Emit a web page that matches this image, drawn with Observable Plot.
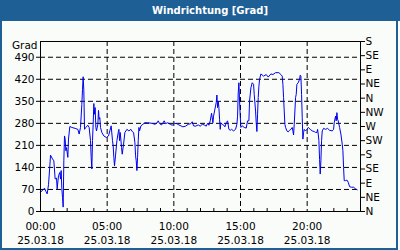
<!DOCTYPE html>
<html>
<head>
<meta charset="utf-8">
<script src="https://cdn.jsdelivr.net/npm/d3@7"></script>
<script src="https://cdn.jsdelivr.net/npm/@observablehq/plot@0.6"></script>
<style>
  html, body { margin: 0; padding: 0; background: #ffffff; }
  body { width: 400px; height: 250px; position: relative; overflow: hidden; }
  #panel { position: absolute; left: 0; top: 0; width: 398px; height: 250px; box-sizing: border-box;
           border: 2px solid #1e5f96; border-top: none; background: #fafcfa; }
  #title { position: absolute; left: 0; top: 0; width: 400px; height: 21px; background: #1e5f96; color: #ffffff;
           font: bold 10px "DejaVu Sans", sans-serif; line-height: 21px; text-align: center;
           padding-left: 20px; box-sizing: border-box; }
  #chart { position: absolute; left: 0; top: 20px; }
</style>
</head>
<body>
<div id="panel"></div>
<div id="title">Windrichtung [Grad]</div>
<div id="chart"></div>
<script>
// Time of day in hours (25.03.18)
const hours = [
  0.0,0.3,0.4,0.5,0.6,0.7,0.75,0.9,1.0,1.1,1.2,1.25,1.35,1.45,1.5,1.55,1.6,1.65,1.7,1.75,1.8,1.85,1.9,1.95,
  2.05,2.1,2.2,2.35,2.6,2.8,2.9,3.0,3.1,3.15,3.2,3.25,3.3,3.4,3.55,3.65,3.75,3.8,3.85,3.9,3.95,4.0,4.05,4.1,
  4.15,4.2,4.3,4.35,4.4,4.45,4.5,4.6,4.75,4.95,5.1,5.2,5.3,5.4,5.45,5.5,5.55,
  5.63,5.73,5.83,5.88,5.93,5.98,6.08,6.13,6.23,6.33,6.48,6.63,6.78,6.88,6.98,7.08,7.13,7.18,7.23,7.28,7.33,
  7.38,7.43,7.53,7.68,7.83,8.03,8.38,8.58,8.73,8.83,8.93,9.08,9.18,9.28,9.38,9.53,9.73,9.88,10.03,10.23,
  10.38,10.53,10.68,10.88,11.08,11.28,11.38,11.48,11.63,
  11.83,11.98,12.13,12.28,12.43,12.53,12.63,12.73,12.83,12.93,12.98,13.08,13.18,13.23,13.28,13.33,13.38,
  13.43,13.48,13.53,13.63,13.73,13.83,13.93,14.03,14.13,14.23,14.33,14.48,14.63,14.73,14.78,14.83,14.88,
  14.93,14.98,15.03,15.13,15.28,15.43,15.53,15.63,15.68,15.78,15.88,15.98,16.03,16.13,16.18,16.23,16.28,
  16.33,16.38,16.43,16.53,16.73,16.93,17.08,17.28,17.43,17.63,
  17.88,18.03,18.13,18.18,18.23,18.28,18.33,18.38,18.48,18.58,18.68,18.78,18.88,18.93,18.98,19.03,19.08,
  19.13,19.18,19.23,19.33,19.43,19.48,19.53,19.58,19.63,19.68,19.73,19.78,19.88,19.98,20.08,20.23,20.38,
  20.53,20.63,20.73,20.78,20.83,20.88,20.93,20.98,21.03,21.08,21.13,21.23,21.38,21.53,21.68,21.88,21.98,
  22.03,22.13,22.18,22.23,22.28,22.33,22.43,22.53,22.63,22.68,22.73,22.78,22.88,22.98,23.08,23.18,23.33,
  23.48,23.63,23.75
];
// Wind direction in degrees
const degrees = [
  61,74,64,56,85,145,179,167,161,103,106,72,114,124,103,130,72,45,14,161,240,230,193,203,
  172,230,270,267,264,261,246,267,340,388,428,383,261,267,274,267,225,172,135,225,277,343,309,330,
  267,256,277,321,293,298,267,251,240,235,240,256,272,225,209,172,145,
  179,225,251,261,225,251,203,182,214,251,261,256,261,254,251,219,177,161,130,172,225,
  267,256,272,277,282,282,280,277,281,288,279,275,281,288,279,282,277,274,280,279,
  275,272,269,271,277,279,285,272,271,
  275,271,277,275,271,280,274,288,312,282,303,325,346,370,330,351,330,
  293,261,282,277,275,269,282,288,261,258,261,256,261,277,303,377,409,
  351,303,267,272,267,265,288,288,351,393,409,404,372,319,282,254,309,
  362,398,420,437,430,435,427,437,435,441,
  441,435,430,404,362,319,277,267,256,253,258,261,267,256,243,277,319,
  362,372,404,409,420,433,430,372,298,230,251,261,256,261,267,261,256,
  254,251,251,261,246,225,166,119,161,225,256,264,261,264,258,256,261,
  282,303,288,314,293,288,267,246,214,193,140,98,98,100,93,79,77,
  77,72,69
];

// Axes / ticks
const leftTicks = [0, 70, 140, 210, 280, 350, 420, 490];
const rightTicks = [0, 45, 90, 135, 180, 225, 270, 315, 360, 405, 450, 495, 540];
const rightLabels = ["N","NE","E","SE","S","SW","W","NW","N","NE","E","SE","S"];
const xTicks = [0, 5, 10, 15, 20];
const xTimeLabels = ["00:00", "05:00", "10:00", "15:00", "20:00"];
const xDateLabel = "25.03.18";
const hourTicks = [1,2,3,4,6,7,8,9,11,12,13,14,16,17,18,19,21,22,23];
const yUnit = "Grad";

const data = hours.map((h, i) => ({h, v: degrees[i]}));

const chart = Plot.plot({
  width: 400,
  height: 228,
  marginTop: 21,
  marginBottom: 37,
  marginLeft: 40,
  marginRight: 40,
  style: {fontFamily: "DejaVu Sans, sans-serif", fontSize: "10.5px", background: "transparent", color: "#000"},
  x: {domain: [0, 24]},
  y: {domain: [0, 540]},
  marks: [
    Plot.gridY(leftTicks.slice(1), {stroke: "#000", strokeOpacity: 1, strokeDasharray: "5,3"}),
    Plot.gridX(xTicks.slice(1), {stroke: "#000", strokeOpacity: 1, strokeDasharray: "5,3"}),
    Plot.tickX(hourTicks, {x: d => d, insetTop: 167, stroke: "#000"}),
    Plot.line(data, {x: "h", y: "v", stroke: "#0000ee", strokeWidth: 1}),
    Plot.frame({stroke: "#000"}),
    Plot.axisY({anchor: "left", ticks: leftTicks, tickSize: 4, tickPadding: 2, label: null}),
    Plot.axisY({anchor: "right", ticks: rightTicks, tickSize: 4, tickPadding: 1, label: null,
                tickFormat: d => rightLabels[rightTicks.indexOf(d)]}),
    Plot.axisX({ticks: xTicks, tickSize: 0, tickPadding: 8, label: null, lineHeight: 1.35,
                tickFormat: d => xTimeLabels[xTicks.indexOf(d)] + "\n" + xDateLabel}),
    Plot.text([yUnit], {text: d => d, frameAnchor: "top-left", textAnchor: "end", lineAnchor: "middle", dx: -3, dy: 4})
  ]
});
document.getElementById("chart").appendChild(chart);
</script>
</body>
</html>
